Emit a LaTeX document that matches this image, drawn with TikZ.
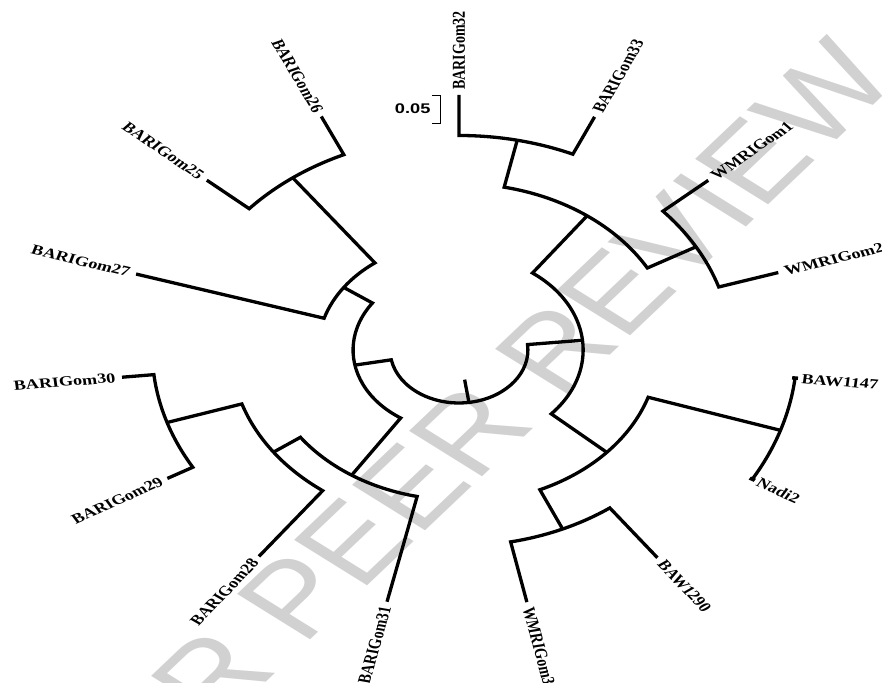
\documentclass[tikz,border=0pt]{standalone}
\usepackage{fontspec}
\setmainfont{Liberation Serif}
\newfontfamily\barfont{Liberation Sans}

\tikzset{
  branch/.style={line width=3.3pt},
  taxon/.style={font=\fontsize{14}{14}\selectfont\bfseries, inner sep=5pt, transform shape},
  rtaxon/.style={taxon, anchor=west, rotate=#1},
  ltaxon/.style={taxon, anchor=east, rotate=#1-180},
  tipmark/.style={fill, inner sep=0pt, minimum width=4.5pt, minimum height=3.5pt, transform shape},
}

\begin{document}
\begin{tikzpicture}[x=1pt, y=1pt, xscale=1.3]
  \useasboundingbox (-353.1,-333) rectangle (325.4,350);

  % Watermark
  \node[transform shape, rotate=51, text=black!18, font=\barfont\fontsize{105}{105}\selectfont] (stamp) at (3,-88) {FOR PEER REVIEW};

  % Leaf tips
  \coordinate (t-gom32) at (90:255);
  \coordinate (t-gom33) at (65.9:255.4);
  \coordinate (t-wm1) at (41.5:256);
  \coordinate (t-wm2) at (17.5:257.5);
  \coordinate (t-baw1147) at (-6.2:260);
  \coordinate (t-nadi2) at (-29.8:260);
  \coordinate (t-baw1290) at (-53.7:257.8);
  \coordinate (t-wm3) at (-78.3:257.5);
  \coordinate (t-gom31) at (257.6:257.8);
  \coordinate (t-gom28) at (233.3:257.5);
  \coordinate (t-gom29) at (209.8:258.5);
  \coordinate (t-gom30) at (186:260.6);
  \coordinate (t-gom27) at (163:259.7);
  \coordinate (t-gom25) at (138.8:257.8);
  \coordinate (t-gom26) at (114.4:256.4);

  % Root
  \draw[branch] (278.3:30) -- (278.3:53);
  \draw[branch] (190.7:81.5) -- (190.7:53) arc[start angle=190.7, end angle=365.85, radius=53] -- (5.85:95.5);

  % Left clade
  \draw[branch] (144.8:108.5) -- (144.8:81.5) arc[start angle=144.8, end angle=236.6, radius=81.5] -- (236.6:150);
  \draw[branch] (t-gom27) -- (163:108.5) arc[start angle=163, end angle=126.6, radius=108.5] -- (126.6:214.5);
  \draw[branch] (t-gom25) -- (138.8:214.5) arc[start angle=138.8, end angle=114.4, radius=214.5] -- (t-gom26);
  \draw[branch] (215.6:175.5) -- (215.6:150) arc[start angle=215.6, end angle=257.6, radius=150] -- (t-gom31);
  \draw[branch] (197.9:236) -- (197.9:175.5) arc[start angle=197.9, end angle=233.3, radius=175.5] -- (t-gom28);
  \draw[branch] (t-gom30) -- (186:236) arc[start angle=186, end angle=209.8, radius=236] -- (t-gom29);

  % Right clade
  \draw[branch] (53.7:166.5) -- (53.7:95.5) arc[start angle=53.7, end angle=-42, radius=95.5] -- (-42:153);
  \draw[branch] (77.95:214.5) -- (77.95:166.5) arc[start angle=77.95, end angle=29.5, radius=166.5] -- (29.5:209.5);
  \draw[branch] (t-gom32) -- (90:214.5) arc[start angle=90, end angle=65.9, radius=214.5] -- (t-gom33);
  \draw[branch] (t-wm1) -- (41.5:209.5) arc[start angle=41.5, end angle=17.5, radius=209.5] -- (t-wm2);
  \draw[branch] (-18:260) -- (-18:153) arc[start angle=-18, end angle=-66, radius=153] -- (-66:196);
  \draw[branch] (t-baw1147) arc[start angle=-6.2, end angle=-29.8, radius=260];
  \draw[branch] (t-baw1290) -- (-53.7:196) arc[start angle=-53.7, end angle=-78.3, radius=196] -- (t-wm3);
  \node[tipmark, rotate=-6.2] at (t-baw1147) {};
  \node[tipmark, rotate=-29.8] at (t-nadi2) {};

  % Taxa
  \node[rtaxon=90] (gom32) at (t-gom32) {BARIGom32};
  \node[rtaxon=65.9] (gom33) at (t-gom33) {BARIGom33};
  \node[rtaxon=41.5] (wm1) at (t-wm1) {WMRIGom1};
  \node[rtaxon=17.5] (wm2) at (t-wm2) {WMRIGom2};
  \node[rtaxon=-6.2] (baw1147) at (t-baw1147) {BAW1147};
  \node[rtaxon=-29.8] (nadi2) at (t-nadi2) {Nadi2};
  \node[rtaxon=-53.7] (baw1290) at (t-baw1290) {BAW1290};
  \node[rtaxon=-78.3] (wm3) at (t-wm3) {WMRIGom3};
  \node[ltaxon=257.6] (gom31) at (t-gom31) {BARIGom31};
  \node[ltaxon=233.3] (gom28) at (t-gom28) {BARIGom28};
  \node[ltaxon=209.8] (gom29) at (t-gom29) {BARIGom29};
  \node[ltaxon=186] (gom30) at (t-gom30) {BARIGom30};
  \node[ltaxon=163] (gom27) at (t-gom27) {BARIGom27};
  \node[ltaxon=138.8] (gom25) at (t-gom25) {BARIGom25};
  \node[ltaxon=114.4] (gom26) at (t-gom26) {BARIGom26};

  % Scale bar
  \draw[line width=0.8pt] (-20.8,255) -- (-14.6,255) -- (-14.6,227) -- (-20.8,227);
  \node[anchor=east, inner sep=1pt, transform shape, font=\barfont\bfseries\fontsize{14}{14}\selectfont] (bar) at (-20.8,241) {0.05};
\end{tikzpicture}
\end{document}
